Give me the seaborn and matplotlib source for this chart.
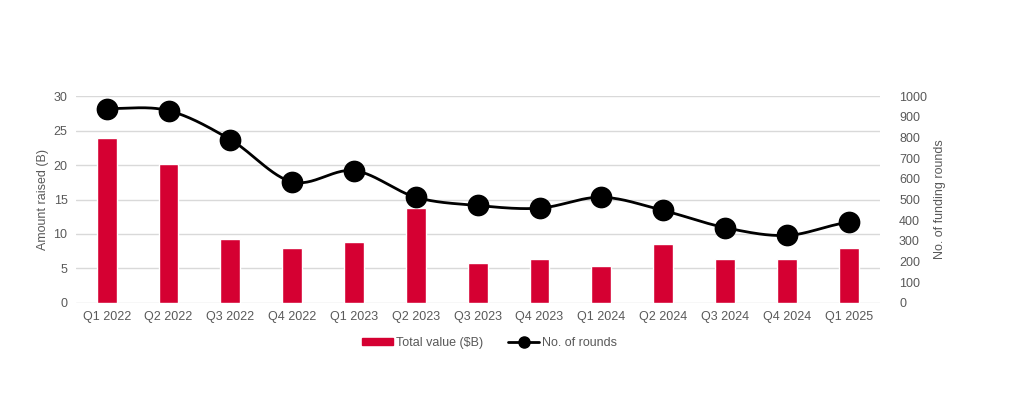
import numpy as np
import pandas as pd
import seaborn as sns
import matplotlib.pyplot as plt
from matplotlib.lines import Line2D
from matplotlib.patches import Patch

# values
quarters = ['Q1 2022', 'Q2 2022', 'Q3 2022', 'Q4 2022', 'Q1 2023', 'Q2 2023', 'Q3 2023',
            'Q4 2023', 'Q1 2024', 'Q2 2024', 'Q3 2024', 'Q4 2024', 'Q1 2025']
total_value = [24.0, 20.1, 9.3, 7.9, 8.9, 13.8, 5.8, 6.4, 5.4, 8.6, 6.4, 6.4, 8.0]
num_rounds = [940, 930, 790, 585, 640, 511, 471, 458, 511, 447, 364, 326, 389]

red = '#d50032'
grey_text = '#595959'
grid_col = '#d9d9d9'

sns.set_theme(style='white')
plt.rcParams['font.family'] = ['Liberation Sans', 'DejaVu Sans']

df = pd.DataFrame({'Quarter': quarters, 'Total': total_value, 'Rounds': num_rounds})

fig = plt.figure(figsize=(10.24, 4.2), dpi=100)
ax = fig.add_axes([0.074, 0.279, 0.785, 0.492])

# bars for amount raised
sns.barplot(data=df, x='Quarter', y='Total', color=red, saturation=1, width=0.32, ax=ax)
ax.set_ylim(0, 30)
ax.set_yticks(range(0, 31, 5))
ax.set_xlim(-0.5, 12.5)
ax.yaxis.grid(True, color=grid_col, linewidth=1)
ax.set_axisbelow(True)
ax.set_xlabel('')
ax.set_ylabel('Amount raised (B)', color=grey_text, fontsize=9, labelpad=3)
ax.tick_params(axis='both', colors=grey_text, labelsize=9, length=0, pad=6)
for s in ax.spines.values():
    s.set_visible(False)

# smoothed line for funding rounds (Catmull-Rom through the points)
ax2 = ax.twinx()
x = np.arange(len(num_rounds), dtype=float)
y = np.array(num_rounds, dtype=float)
px = np.concatenate([[2 * x[0] - x[1]], x, [2 * x[-1] - x[-2]]])
py = np.concatenate([[y[0]], y, [y[-1]]])
sx, sy = [], []
t = np.linspace(0, 1, 30)
for i in range(1, len(px) - 2):
    p0, p1, p2, p3 = py[i - 1], py[i], py[i + 1], py[i + 2]
    q0, q1, q2, q3 = px[i - 1], px[i], px[i + 1], px[i + 2]
    sy.extend(0.5 * ((2 * p1) + (-p0 + p2) * t + (2 * p0 - 5 * p1 + 4 * p2 - p3) * t ** 2
                     + (-p0 + 3 * p1 - 3 * p2 + p3) * t ** 3))
    sx.extend(0.5 * ((2 * q1) + (-q0 + q2) * t + (2 * q0 - 5 * q1 + 4 * q2 - q3) * t ** 2
                     + (-q0 + 3 * q1 - 3 * q2 + q3) * t ** 3))
ax2.plot(sx, sy, color='black', linewidth=2, zorder=3)
sns.scatterplot(x=x, y=y, color='black', s=210, edgecolor='black', zorder=4, ax=ax2, legend=False)
ax2.set_ylim(0, 1000)
ax2.set_yticks(range(0, 1001, 100))
ax2.set_ylabel('No. of funding rounds', color=grey_text, fontsize=9, labelpad=5)
ax2.tick_params(axis='y', colors=grey_text, labelsize=9, length=0, pad=14)
for s in ax2.spines.values():
    s.set_visible(False)
ax2.set_xlim(-0.5, 12.5)

handles = [Patch(color=red, label='Total value ($B)'),
           Line2D([0], [0], color='black', linewidth=2, marker='o', markersize=8, label='No. of rounds')]
leg = fig.legend(handles=handles, loc='center', bbox_to_anchor=(0.478, 0.183), ncol=2, frameon=False,
                 fontsize=9, handlelength=2.5, handleheight=0.5, columnspacing=2, handletextpad=0.2)
for txt in leg.get_texts():
    txt.set_color(grey_text)

fig.savefig('out.png', dpi=100)
